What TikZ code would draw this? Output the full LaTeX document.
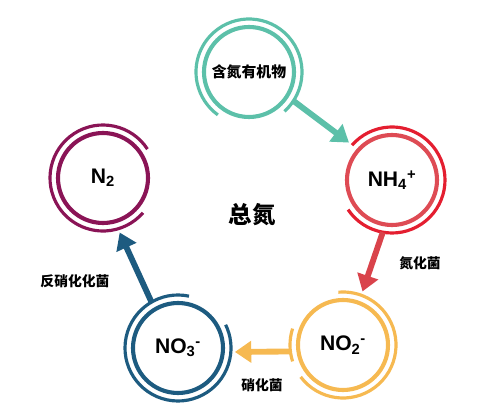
\documentclass[tikz,border=0pt]{standalone}
\usepackage{fontspec}
\setmainfont{Liberation Sans}
\newfontfamily\cjk{Noto Sans CJK SC}
\usetikzlibrary{arrows.meta}

\definecolor{OrgTeal}{HTML}{5CC0A9}
\definecolor{AmmRed}{HTML}{DE4B54}
\definecolor{AmmRedOut}{HTML}{E41E30}
\definecolor{ArrRed}{HTML}{D9434B}
\definecolor{NitOrange}{HTML}{F6B951}
\definecolor{NatBlue}{HTML}{1D5B80}
\definecolor{DnPurple}{HTML}{8A1456}

\begin{document}
\begin{tikzpicture}[x=0.03cm,y=0.03cm,
    ring/.style={circle, line width=3.5pt, inner sep=0pt, minimum size=90*0.03cm,
      font=\bfseries\fontsize{18}{18}\selectfont},
    outring/.style={line width=2.7pt},
    flow/.style={line width=5pt, -{Triangle[width=18pt,length=14pt]}},
    bug/.style={font=\cjk\bfseries\fontsize{11.8}{12}\selectfont}]
      % Define the radius of the outer rings
      \def\OuterR{53}
      \def\TipR{57}

      \useasboundingbox (0,0) rectangle (501,417);

      % Draw the inner rings
      \node[ring, draw=OrgTeal] (org) at (249,345) {\cjk\bfseries\fontsize{12.7}{13}\selectfont 含氮有机物};
      \node[ring, draw=AmmRed] (amm) at (392,237) {NH\textsubscript{4}\textsuperscript{+}};
      \node[ring, draw=NitOrange] (nit) at (343,72) {NO\textsubscript{2}\textsuperscript{-}};
      \node[ring, draw=NatBlue] (nat) at (178,69) {NO\textsubscript{3}\textsuperscript{-}};
      \node[ring, draw=DnPurple] (dn) at (103,239) {N\textsubscript{2}};

      % Draw the outer rings
      \draw[outring, OrgTeal] ([shift={(-48:\OuterR)}]org.center) arc[start angle=-48,end angle=234,radius=\OuterR];
      \draw[outring, AmmRedOut] ([shift={(-146:\OuterR)}]amm.center) arc[start angle=-146,end angle=139,radius=\OuterR];
      \draw[outring, NitOrange] ([shift={(-143:\OuterR)}]nit.center) arc[start angle=-143,end angle=95,radius=\OuterR];
      \draw[outring, NitOrange] ([shift={(162:\OuterR)}]nit.center) arc[start angle=162,end angle=198,radius=\OuterR];
      \draw[outring, NatBlue] ([shift={(78:\OuterR)}]nat.center) arc[start angle=78,end angle=386,radius=\OuterR];
      \draw[outring, DnPurple] ([shift={(33:\OuterR)}]dn.center) arc[start angle=33,end angle=319,radius=\OuterR];

      % Draw the arrows between the rings
      \draw[flow, OrgTeal] ([shift={(-33:\OuterR)}]org.center) -- ([shift={(139:\TipR)}]amm.center);
      \draw[flow, ArrRed] ([shift={(-100:\OuterR)}]amm.center) -- ([shift={(70:\TipR)}]nit.center);
      \draw[flow, NitOrange] ([shift={(187:\OuterR)}]nit.center) -- ([shift={(-4:\TipR)}]nat.center);
      \draw[flow, NatBlue] ([shift={(120:\OuterR)}]nat.center) -- ([shift={(-73:\TipR)}]dn.center);

      % Label the bacteria
      \node[bug] (ammbug) at (420,154) {氮化菌};
      \node[bug] (nitbug) at (262,32) {硝化菌};
      \node[bug] (dnbug) at (75,136) {反硝化化菌};

      % Label the total
      \node[font=\cjk\bfseries\fontsize{20}{20}\selectfont] (total) at (252,202) {总氮};
    \end{tikzpicture}
\end{document}
